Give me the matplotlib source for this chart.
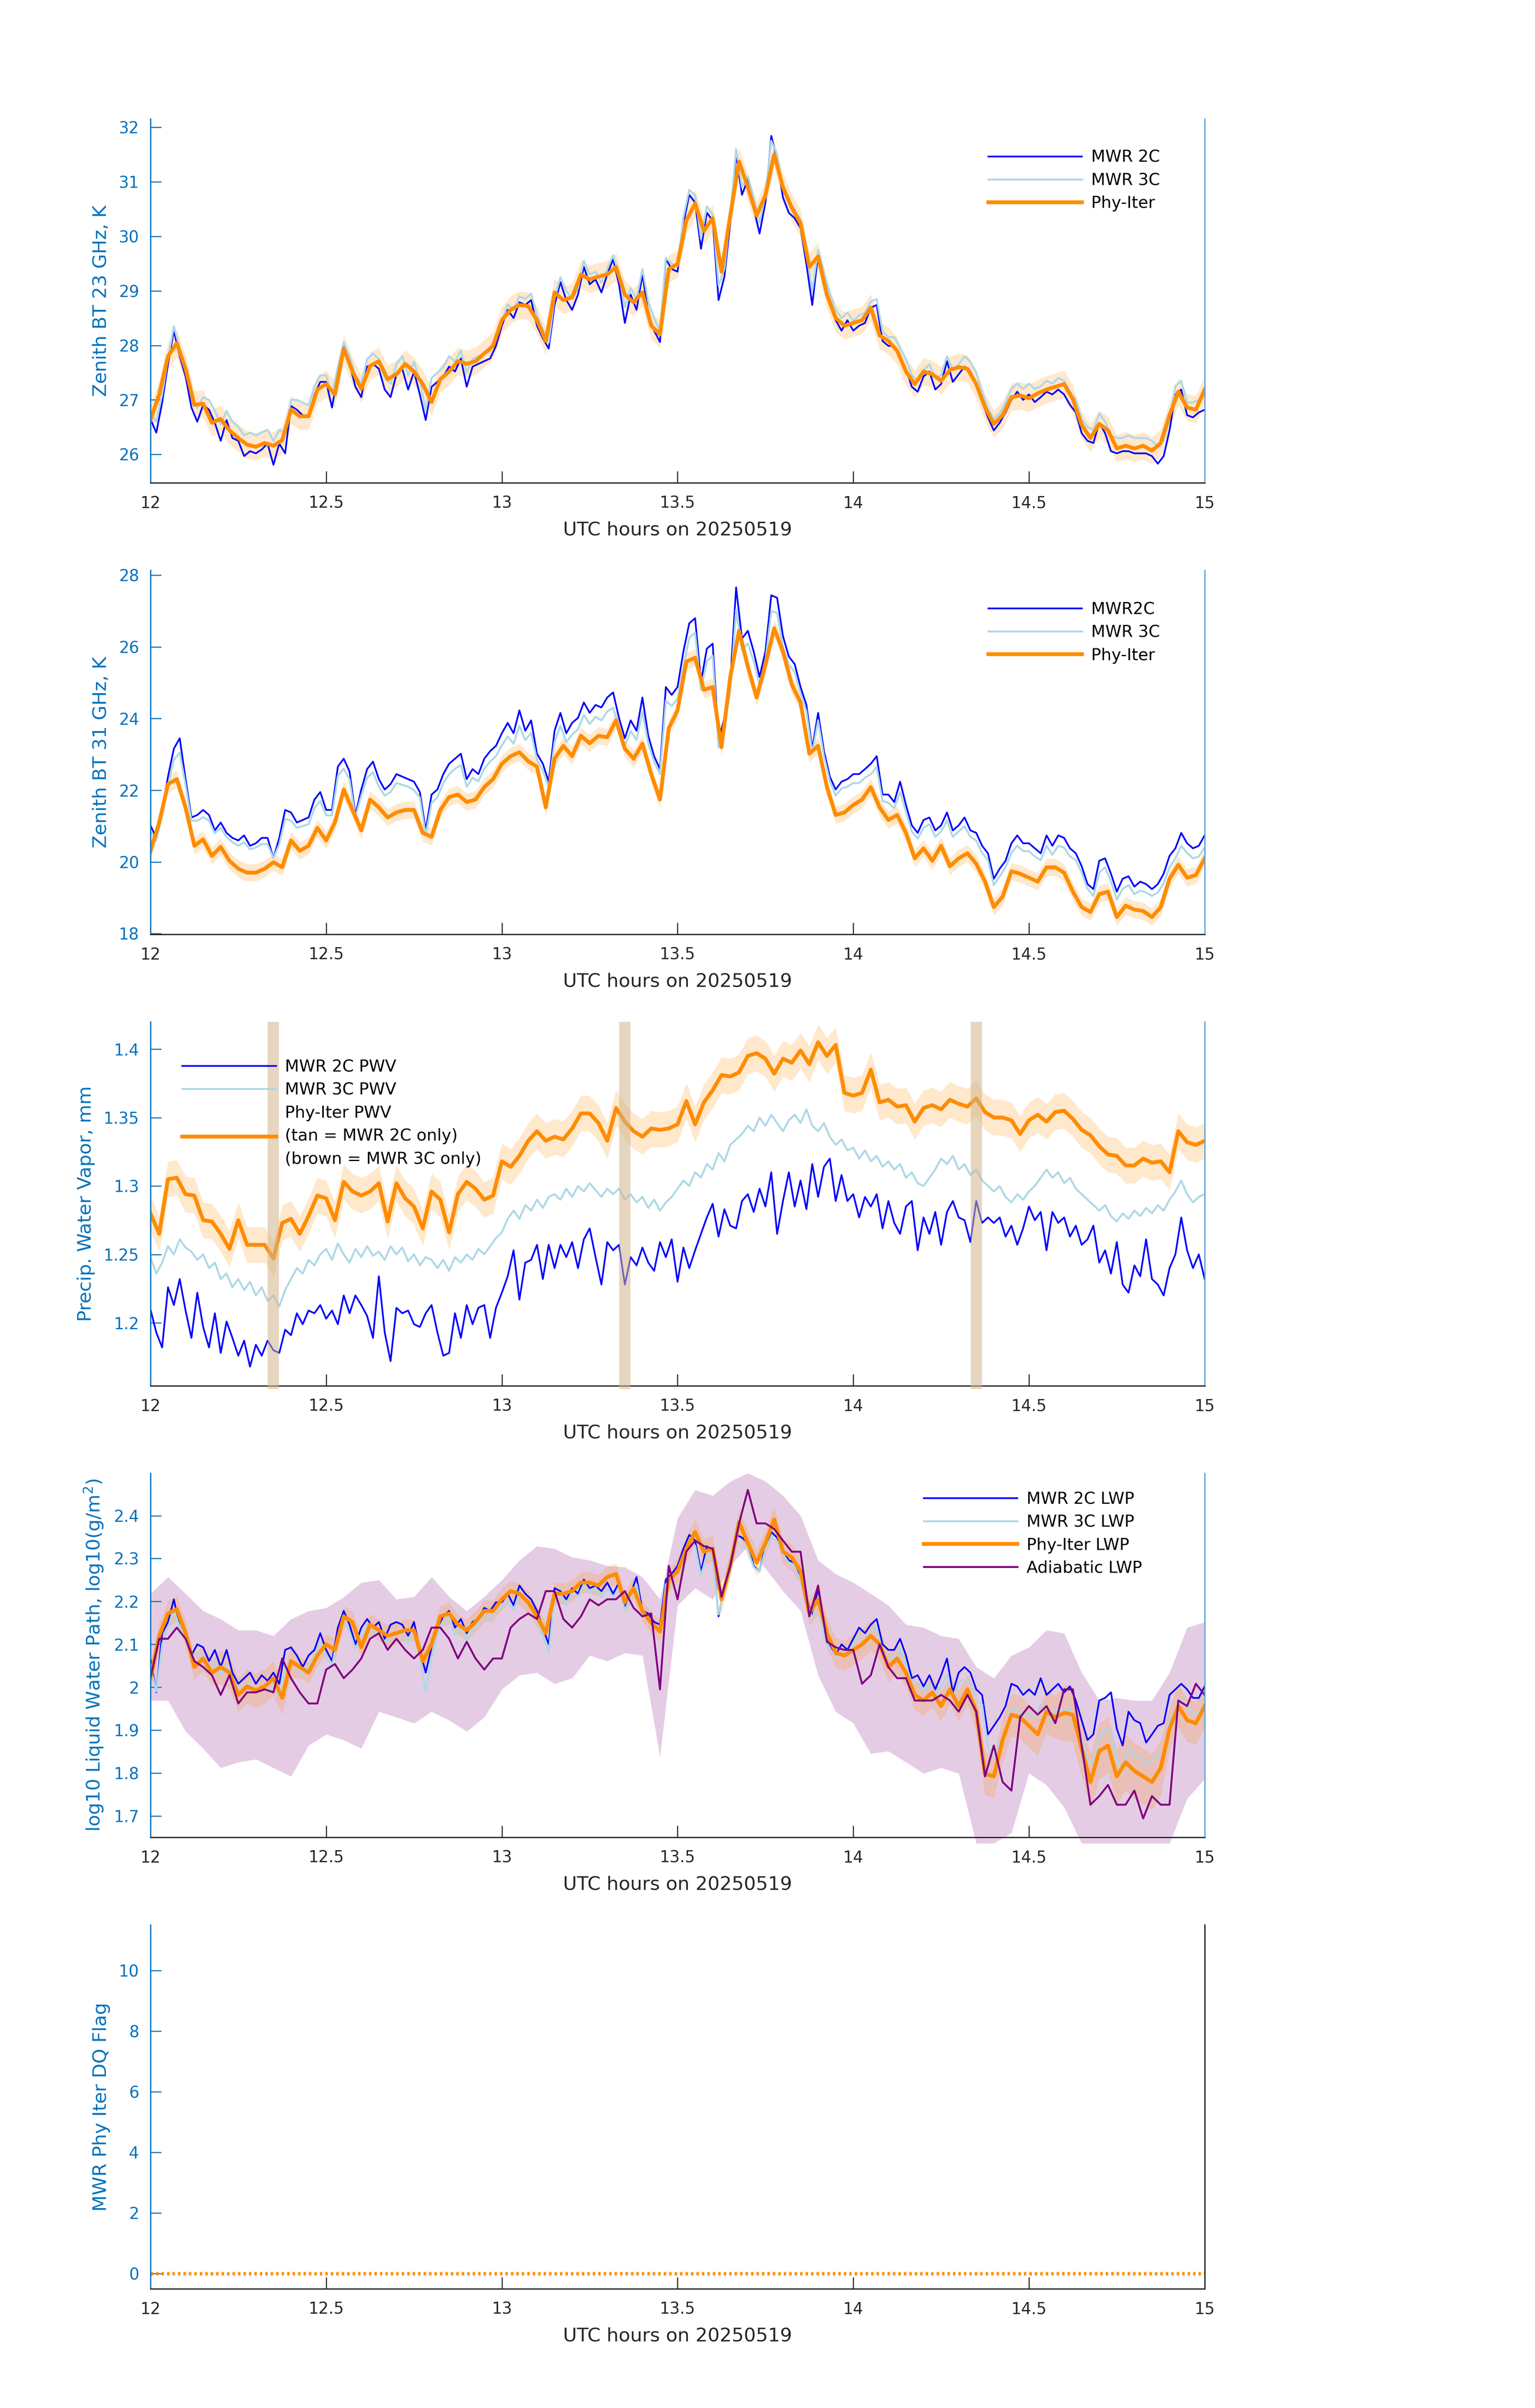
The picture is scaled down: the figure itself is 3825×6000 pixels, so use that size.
import numpy as np
import matplotlib
matplotlib.use("Agg")
import matplotlib.pyplot as plt
from matplotlib.ticker import FormatStrFormatter

# time axes (UTC hours)
t_fine = np.linspace(12, 15, 181)   # MWR samples, 1 min
t_phy = np.linspace(12, 15, 121)    # Phy-Iter retrievals, 1.5 min
t_env = np.linspace(12, 15, 61)     # adiabatic envelope, 3 min
x_ticks = [12, 12.5, 13, 13.5, 14, 14.5, 15]

# ---- 23 GHz brightness temperature, K
bt23_2c = [26.65, 26.40, 26.95, 27.66, 28.27, 27.80, 27.43, 26.86, 26.60, 26.91,
           26.82, 26.58, 26.25, 26.63, 26.30, 26.25, 25.97, 26.06, 26.02, 26.09,
           26.20, 25.81, 26.20, 26.02, 26.89, 26.82, 26.72, 26.68, 27.10, 27.33,
           27.33, 26.86, 27.47, 27.99, 27.66, 27.24, 27.05, 27.61, 27.66, 27.57,
           27.19, 27.05, 27.47, 27.57, 27.19, 27.52, 27.10, 26.63, 27.24, 27.33,
           27.43, 27.61, 27.52, 27.76, 27.24, 27.61, 27.66, 27.71, 27.76, 27.99,
           28.36, 28.65, 28.50, 28.79, 28.74, 28.83, 28.36, 28.13, 27.94, 28.74,
           29.16, 28.83, 28.65, 28.93, 29.44, 29.12, 29.21, 28.97, 29.30, 29.58,
           29.12, 28.41, 28.93, 28.65, 29.30, 28.60, 28.27, 28.06, 29.58, 29.40,
           29.35, 30.24, 30.76, 30.62, 29.77, 30.43, 30.29, 28.83, 29.26, 30.24,
           31.51, 30.76, 31.04, 30.52, 30.05, 30.62, 31.84, 31.41, 30.71, 30.43,
           30.33, 30.15, 29.49, 28.74, 29.68, 29.21, 28.74, 28.46, 28.27, 28.46,
           28.27, 28.36, 28.41, 28.69, 28.74, 28.08, 27.99, 27.99, 27.80, 27.57,
           27.24, 27.15, 27.43, 27.52, 27.19, 27.29, 27.71, 27.33, 27.47, 27.61,
           27.52, 27.29, 26.96, 26.68, 26.44, 26.58, 26.77, 27.00, 27.15, 27.00,
           27.10, 26.96, 27.05, 27.15, 27.10, 27.19, 27.10, 26.91, 26.77, 26.39,
           26.25, 26.21, 26.58, 26.39, 26.06, 26.02, 26.06, 26.06, 26.02, 26.02,
           26.02, 25.97, 25.83, 25.97, 26.44, 27.10, 27.19, 26.72, 26.68, 26.77,
           26.82]
bt23_3c = [26.75, 26.60, 27.10, 27.75, 28.35, 27.95, 27.55, 27.05, 26.85, 27.05,
           27.00, 26.80, 26.55, 26.80, 26.60, 26.50, 26.35, 26.40, 26.35, 26.40,
           26.45, 26.25, 26.45, 26.40, 27.00, 27.00, 26.95, 26.90, 27.25, 27.45,
           27.45, 27.10, 27.60, 28.05, 27.80, 27.45, 27.30, 27.75, 27.85, 27.75,
           27.40, 27.30, 27.65, 27.80, 27.45, 27.70, 27.35, 26.80, 27.40, 27.50,
           27.60, 27.80, 27.70, 27.90, 27.50, 27.75, 27.80, 27.85, 27.90, 28.10,
           28.45, 28.75, 28.65, 28.90, 28.85, 28.95, 28.55, 28.30, 28.05, 28.85,
           29.25, 29.00, 28.85, 29.05, 29.55, 29.30, 29.35, 29.15, 29.40, 29.65,
           29.30, 28.70, 29.05, 28.85, 29.40, 28.80, 28.50, 28.25, 29.60, 29.50,
           29.45, 30.35, 30.85, 30.75, 29.95, 30.55, 30.40, 29.10, 29.40, 30.35,
           31.60, 30.90, 31.10, 30.70, 30.25, 30.75, 31.75, 31.50, 30.85, 30.60,
           30.50, 30.30, 29.70, 29.00, 29.75, 29.35, 28.95, 28.65, 28.50, 28.60,
           28.45, 28.55, 28.60, 28.80, 28.85, 28.25, 28.15, 28.15, 27.95, 27.75,
           27.45, 27.35, 27.55, 27.65, 27.40, 27.45, 27.80, 27.55, 27.65, 27.80,
           27.70, 27.50, 27.15, 26.85, 26.65, 26.75, 26.95, 27.20, 27.30, 27.20,
           27.30, 27.20, 27.25, 27.35, 27.30, 27.40, 27.35, 27.15, 27.00, 26.65,
           26.50, 26.45, 26.75, 26.60, 26.35, 26.30, 26.30, 26.35, 26.30, 26.30,
           26.30, 26.25, 26.15, 26.25, 26.65, 27.25, 27.35, 26.95, 26.95, 27.00,
           27.10]
bt23_phy = [26.63, 27.10, 27.80, 28.04, 27.57, 26.91, 26.93, 26.58, 26.65, 26.44,
            26.30, 26.18, 26.14, 26.21, 26.16, 26.26, 26.82, 26.70, 26.70, 27.19,
            27.29, 27.10, 27.94, 27.52, 27.20, 27.62, 27.71, 27.38, 27.47, 27.66,
            27.52, 27.29, 26.96, 27.38, 27.52, 27.71, 27.66, 27.71, 27.85, 27.99,
            28.46, 28.65, 28.74, 28.72, 28.46, 28.08, 28.97, 28.83, 28.88, 29.30,
            29.21, 29.26, 29.30, 29.44, 28.93, 28.79, 28.97, 28.36, 28.20, 29.40,
            29.49, 30.29, 30.60, 30.10, 30.33, 29.35, 30.38, 31.37, 30.90, 30.38,
            30.75, 31.50, 30.90, 30.52, 30.24, 29.44, 29.63, 28.93, 28.50, 28.36,
            28.41, 28.46, 28.69, 28.18, 28.08, 27.90, 27.52, 27.29, 27.52, 27.47,
            27.35, 27.55, 27.60, 27.57, 27.29, 26.86, 26.56, 26.72, 27.05, 27.08,
            27.03, 27.12, 27.19, 27.24, 27.29, 27.01, 26.54, 26.30, 26.56, 26.44,
            26.11, 26.16, 26.11, 26.16, 26.07, 26.21, 26.72, 27.15, 26.86, 26.82,
            27.19]
bt23_unc = 0.25

# ---- 31 GHz brightness temperature, K
bt31_2c = [21.02, 20.67, 21.45, 22.38, 23.16, 23.45, 22.31, 21.24, 21.31, 21.45,
           21.31, 20.88, 21.10, 20.81, 20.67, 20.60, 20.74, 20.45, 20.52, 20.67,
           20.67, 20.10, 20.67, 21.45, 21.38, 21.10, 21.17, 21.24, 21.74, 21.95,
           21.45, 21.45, 22.66, 22.88, 22.52, 21.31, 22.02, 22.59, 22.80, 22.31,
           22.02, 22.17, 22.45, 22.38, 22.31, 22.24, 21.95, 20.88, 21.88, 22.02,
           22.45, 22.74, 22.88, 23.02, 22.31, 22.59, 22.45, 22.88, 23.09, 23.24,
           23.59, 23.88, 23.59, 24.23, 23.66, 23.95, 23.02, 22.74, 22.24, 23.66,
           24.16, 23.59, 23.88, 24.02, 24.45, 24.16, 24.38, 24.31, 24.59, 24.73,
           24.02, 23.45, 23.95, 23.66, 24.59, 23.52, 22.95, 22.59, 24.88, 24.66,
           24.88, 25.87, 26.66, 26.80, 25.02, 25.95, 26.09, 23.38, 24.02, 25.02,
           27.66, 26.23, 26.45, 25.87, 25.16, 25.87, 27.44, 27.37, 26.30, 25.73,
           25.52, 24.88, 24.38, 23.16, 24.16, 23.09, 22.38, 22.02, 22.24, 22.31,
           22.45, 22.45, 22.59, 22.74, 22.95, 21.88, 21.88, 21.67, 22.24, 21.59,
           21.02, 20.81, 21.17, 21.24, 20.88, 21.02, 21.38, 20.88, 21.02, 21.24,
           20.88, 20.81, 20.45, 20.24, 19.53, 19.81, 20.03, 20.52, 20.74, 20.52,
           20.52, 20.38, 20.24, 20.74, 20.45, 20.74, 20.67, 20.38, 20.24, 19.88,
           19.38, 19.24, 20.03, 20.10, 19.67, 19.17, 19.53, 19.60, 19.31, 19.45,
           19.38, 19.24, 19.38, 19.67, 20.17, 20.38, 20.81, 20.52, 20.38, 20.45,
           20.74]
bt31_3c = [20.85, 20.60, 21.30, 22.15, 22.85, 23.05, 22.15, 21.15, 21.15, 21.25,
           21.15, 20.80, 20.95, 20.70, 20.55, 20.45, 20.55, 20.35, 20.40, 20.50,
           20.50, 20.10, 20.50, 21.20, 21.15, 20.95, 21.00, 21.05, 21.50, 21.70,
           21.30, 21.30, 22.40, 22.60, 22.30, 21.25, 21.85, 22.35, 22.50, 22.10,
           21.85, 21.95, 22.20, 22.15, 22.10, 22.00, 21.80, 20.75, 21.65, 21.80,
           22.20, 22.45, 22.60, 22.70, 22.10, 22.35, 22.25, 22.60, 22.80, 22.95,
           23.25, 23.50, 23.30, 23.80, 23.40, 23.60, 22.85, 22.55, 22.10, 23.35,
           23.80, 23.35, 23.55, 23.70, 24.10, 23.85, 24.05, 23.95, 24.20, 24.30,
           23.75, 23.25, 23.65, 23.40, 24.20, 23.30, 22.80, 22.45, 24.50, 24.35,
           24.55, 25.45, 26.25, 26.40, 24.80, 25.60, 25.75, 23.20, 23.80, 24.75,
           27.05, 25.90, 26.10, 25.60, 24.95, 25.60, 27.00, 26.95, 26.00, 25.50,
           25.30, 24.70, 24.20, 23.05, 23.95, 22.95, 22.25, 21.85, 22.05, 22.10,
           22.20, 22.20, 22.35, 22.45, 22.65, 21.70, 21.65, 21.50, 21.95, 21.40,
           20.85, 20.65, 20.95, 21.05, 20.70, 20.85, 21.15, 20.70, 20.85, 21.00,
           20.70, 20.60, 20.25, 20.05, 19.35, 19.60, 19.85, 20.25, 20.45, 20.30,
           20.30, 20.15, 20.05, 20.45, 20.20, 20.45, 20.40, 20.15, 20.05, 19.70,
           19.25, 19.05, 19.70, 19.85, 19.45, 18.95, 19.25, 19.35, 19.10, 19.20,
           19.15, 19.05, 19.15, 19.40, 19.85, 20.10, 20.45, 20.25, 20.10, 20.15,
           20.40]
bt31_phy = [20.30, 21.10, 22.17, 22.31, 21.52, 20.45, 20.63, 20.17, 20.42, 20.03,
            19.81, 19.70, 19.70, 19.81, 19.99, 19.85, 20.60, 20.31, 20.45, 20.95,
            20.60, 21.10, 22.02, 21.45, 20.88, 21.74, 21.52, 21.24, 21.38, 21.45,
            21.45, 20.81, 20.70, 21.45, 21.81, 21.88, 21.67, 21.74, 22.09, 22.31,
            22.74, 22.95, 23.06, 22.81, 22.66, 21.52, 22.88, 23.24, 22.95, 23.52,
            23.31, 23.52, 23.48, 23.95, 23.16, 22.88, 23.30, 22.45, 21.74, 23.73,
            24.23, 25.59, 25.70, 24.80, 24.88, 23.20, 25.16, 26.45, 25.45, 24.59,
            25.50, 26.52, 25.87, 24.95, 24.45, 23.02, 23.24, 22.09, 21.31, 21.38,
            21.59, 21.74, 22.09, 21.52, 21.17, 21.31, 20.81, 20.10, 20.38, 20.03,
            20.45, 19.88, 20.10, 20.24, 19.95, 19.45, 18.74, 19.03, 19.74, 19.67,
            19.56, 19.45, 19.85, 19.85, 19.70, 19.17, 18.74, 18.60, 19.10, 19.17,
            18.46, 18.78, 18.67, 18.63, 18.46, 18.74, 19.53, 19.92, 19.56, 19.63,
            20.10]
bt31_unc = 0.24

# ---- precipitable water vapor, mm
pwv_2c = [1.210, 1.193, 1.182, 1.226, 1.213, 1.232, 1.209, 1.189, 1.222, 1.197,
          1.182, 1.207, 1.178, 1.201, 1.189, 1.176, 1.187, 1.168, 1.184, 1.176,
          1.187, 1.180, 1.178, 1.195, 1.191, 1.207, 1.199, 1.209, 1.207, 1.213,
          1.203, 1.209, 1.199, 1.220, 1.207, 1.220, 1.213, 1.205, 1.189, 1.234,
          1.193, 1.172, 1.211, 1.207, 1.209, 1.199, 1.197, 1.207, 1.213, 1.193,
          1.176, 1.178, 1.207, 1.189, 1.213, 1.199, 1.211, 1.213, 1.189, 1.211,
          1.222, 1.234, 1.253, 1.217, 1.244, 1.246, 1.257, 1.232, 1.257, 1.240,
          1.257, 1.248, 1.259, 1.240, 1.261, 1.269, 1.248, 1.228, 1.259, 1.253,
          1.257, 1.228, 1.248, 1.242, 1.255, 1.244, 1.238, 1.259, 1.248, 1.261,
          1.230, 1.255, 1.240, 1.253, 1.265, 1.277, 1.287, 1.263, 1.283, 1.271,
          1.269, 1.289, 1.294, 1.281, 1.298, 1.285, 1.310, 1.265, 1.289, 1.310,
          1.285, 1.304, 1.283, 1.316, 1.292, 1.314, 1.320, 1.289, 1.308, 1.289,
          1.294, 1.277, 1.292, 1.285, 1.294, 1.269, 1.289, 1.273, 1.265, 1.285,
          1.289, 1.253, 1.277, 1.265, 1.281, 1.257, 1.281, 1.289, 1.277, 1.275,
          1.259, 1.289, 1.273, 1.277, 1.273, 1.277, 1.263, 1.271, 1.257, 1.269,
          1.285, 1.275, 1.281, 1.253, 1.281, 1.273, 1.277, 1.263, 1.271, 1.257,
          1.261, 1.271, 1.244, 1.253, 1.236, 1.259, 1.228, 1.222, 1.242, 1.234,
          1.261, 1.232, 1.228, 1.220, 1.240, 1.250, 1.277, 1.253, 1.240, 1.250,
          1.232]
pwv_3c = [1.248, 1.236, 1.244, 1.256, 1.250, 1.261, 1.255, 1.252, 1.246, 1.250,
          1.240, 1.244, 1.232, 1.236, 1.226, 1.232, 1.224, 1.230, 1.220, 1.226,
          1.216, 1.220, 1.212, 1.224, 1.232, 1.240, 1.236, 1.246, 1.242, 1.250,
          1.254, 1.246, 1.258, 1.250, 1.244, 1.254, 1.248, 1.256, 1.249, 1.252,
          1.246, 1.256, 1.250, 1.255, 1.245, 1.250, 1.242, 1.248, 1.246, 1.240,
          1.246, 1.238, 1.248, 1.244, 1.250, 1.246, 1.254, 1.250, 1.256, 1.262,
          1.266, 1.276, 1.282, 1.276, 1.286, 1.282, 1.290, 1.284, 1.292, 1.294,
          1.290, 1.298, 1.292, 1.300, 1.296, 1.302, 1.297, 1.292, 1.298, 1.294,
          1.298, 1.290, 1.294, 1.288, 1.292, 1.284, 1.290, 1.282, 1.288, 1.292,
          1.298, 1.304, 1.300, 1.310, 1.306, 1.316, 1.312, 1.324, 1.318, 1.330,
          1.334, 1.338, 1.344, 1.340, 1.350, 1.344, 1.352, 1.346, 1.340, 1.348,
          1.352, 1.346, 1.356, 1.344, 1.340, 1.346, 1.336, 1.330, 1.334, 1.326,
          1.328, 1.320, 1.326, 1.318, 1.322, 1.314, 1.318, 1.312, 1.316, 1.306,
          1.310, 1.302, 1.300, 1.306, 1.312, 1.320, 1.316, 1.322, 1.312, 1.316,
          1.308, 1.312, 1.304, 1.300, 1.296, 1.300, 1.292, 1.288, 1.294, 1.290,
          1.296, 1.300, 1.306, 1.312, 1.306, 1.310, 1.302, 1.306, 1.298, 1.294,
          1.290, 1.286, 1.282, 1.286, 1.278, 1.274, 1.280, 1.276, 1.282, 1.278,
          1.284, 1.280, 1.286, 1.282, 1.290, 1.296, 1.304, 1.294, 1.288, 1.292,
          1.294]
pwv_phy = [1.280, 1.265, 1.305, 1.306, 1.294, 1.293, 1.275, 1.274, 1.265, 1.254,
           1.275, 1.257, 1.257, 1.257, 1.247, 1.273, 1.276, 1.265, 1.278, 1.293,
           1.291, 1.275, 1.303, 1.296, 1.293, 1.296, 1.302, 1.274, 1.302, 1.291,
           1.285, 1.269, 1.296, 1.290, 1.266, 1.294, 1.303, 1.298, 1.290, 1.293,
           1.318, 1.314, 1.322, 1.333, 1.340, 1.333, 1.336, 1.334, 1.342, 1.353,
           1.353, 1.346, 1.333, 1.357, 1.347, 1.340, 1.336, 1.342, 1.341, 1.342,
           1.345, 1.362, 1.345, 1.361, 1.370, 1.381, 1.380, 1.383, 1.395, 1.397,
           1.393, 1.382, 1.393, 1.390, 1.399, 1.389, 1.405, 1.395, 1.403, 1.368,
           1.366, 1.368, 1.385, 1.361, 1.363, 1.358, 1.359, 1.347, 1.357, 1.359,
           1.356, 1.363, 1.360, 1.358, 1.364, 1.354, 1.350, 1.350, 1.348, 1.338,
           1.348, 1.352, 1.347, 1.354, 1.355, 1.349, 1.341, 1.337, 1.329, 1.323,
           1.322, 1.315, 1.315, 1.320, 1.317, 1.318, 1.310, 1.340, 1.332, 1.330,
           1.333]
pwv_unc = 0.013
tan_times = [12.35, 13.35, 14.35]   # MWR 2C-only retrievals
tan_width = 0.032

# ---- log10 liquid water path
lwp_2c = [2.067, 1.988, 2.126, 2.152, 2.205, 2.139, 2.130, 2.074, 2.100, 2.093,
          2.061, 2.087, 2.047, 2.087, 2.034, 2.008, 2.021, 2.034, 2.008, 2.028,
          2.015, 2.034, 2.008, 2.087, 2.093, 2.074, 2.047, 2.074, 2.087, 2.126,
          2.087, 2.061, 2.139, 2.178, 2.146, 2.100, 2.139, 2.159, 2.139, 2.152,
          2.113, 2.146, 2.152, 2.146, 2.120, 2.152, 2.087, 2.034, 2.093, 2.139,
          2.165, 2.178, 2.139, 2.159, 2.126, 2.152, 2.159, 2.185, 2.178, 2.198,
          2.198, 2.218, 2.191, 2.237, 2.218, 2.205, 2.178, 2.139, 2.100, 2.231,
          2.224, 2.205, 2.231, 2.218, 2.251, 2.231, 2.237, 2.224, 2.244, 2.218,
          2.244, 2.185, 2.218, 2.257, 2.178, 2.172, 2.152, 2.146, 2.251, 2.264,
          2.283, 2.323, 2.355, 2.342, 2.270, 2.329, 2.316, 2.165, 2.237, 2.283,
          2.355, 2.349, 2.336, 2.283, 2.270, 2.329, 2.362, 2.349, 2.316, 2.296,
          2.290, 2.257, 2.211, 2.165, 2.231, 2.133, 2.100, 2.074, 2.100, 2.087,
          2.113, 2.139, 2.126, 2.146, 2.159, 2.100, 2.087, 2.087, 2.113, 2.074,
          2.021, 2.028, 2.002, 2.028, 1.995, 2.028, 2.067, 1.988, 2.034, 2.047,
          2.034, 1.995, 1.982, 1.890, 1.910, 1.930, 1.956, 2.008, 2.002, 1.982,
          1.995, 1.982, 2.021, 1.982, 1.995, 2.008, 1.988, 2.002, 1.969, 1.923,
          1.877, 1.890, 1.969, 1.975, 1.988, 1.903, 1.864, 1.943, 1.923, 1.916,
          1.871, 1.890, 1.910, 1.916, 1.982, 1.995, 2.008, 1.995, 1.975, 1.975,
          2.002]
lwp_3c = [2.05, 1.99, 2.10, 2.14, 2.18, 2.14, 2.12, 2.07, 2.08, 2.07,
          2.05, 2.06, 2.03, 2.05, 2.02, 2.00, 2.00, 2.01, 1.99, 2.00,
          1.99, 2.01, 1.98, 2.05, 2.06, 2.05, 2.03, 2.05, 2.07, 2.10,
          2.07, 2.05, 2.12, 2.16, 2.13, 2.09, 2.12, 2.14, 2.12, 2.13,
          2.10, 2.12, 2.13, 2.12, 2.10, 2.13, 2.07, 1.99, 2.07, 2.12,
          2.15, 2.16, 2.12, 2.14, 2.11, 2.13, 2.15, 2.17, 2.16, 2.18,
          2.19, 2.20, 2.18, 2.22, 2.20, 2.19, 2.16, 2.12, 2.08, 2.21,
          2.21, 2.19, 2.22, 2.21, 2.24, 2.22, 2.23, 2.21, 2.23, 2.21,
          2.23, 2.18, 2.21, 2.24, 2.17, 2.16, 2.14, 2.13, 2.24, 2.25,
          2.27, 2.31, 2.34, 2.33, 2.26, 2.31, 2.30, 2.17, 2.23, 2.27,
          2.34, 2.33, 2.32, 2.28, 2.27, 2.32, 2.35, 2.34, 2.31, 2.29,
          2.28, 2.25, 2.20, 2.16, 2.21, 2.12, 2.09, 2.07, 2.09, 2.08,
          2.10, 2.12, 2.11, 2.13, 2.14, 2.08, 2.07, 2.07, 2.09, 2.05,
          2.01, 2.01, 1.99, 2.01, 1.98, 2.00, 2.03, 1.97, 2.01, 2.02,
          2.01, 1.97, 1.96, 1.86, 1.84, 1.87, 1.90, 1.95, 1.95, 1.93,
          1.94, 1.93, 1.96, 1.93, 1.94, 1.95, 1.94, 1.95, 1.92, 1.88,
          1.83, 1.82, 1.88, 1.90, 1.90, 1.83, 1.80, 1.86, 1.84, 1.84,
          1.82, 1.83, 1.84, 1.85, 1.92, 1.95, 1.97, 1.96, 1.94, 1.94,
          1.96]
lwp_phy = [2.021, 2.120, 2.172, 2.182, 2.126, 2.047, 2.067, 2.034, 2.047, 2.034,
           1.982, 2.002, 1.992, 2.002, 2.021, 1.975, 2.061, 2.047, 2.034, 2.074,
           2.100, 2.087, 2.165, 2.152, 2.093, 2.146, 2.133, 2.120, 2.126, 2.133,
           2.133, 2.061, 2.100, 2.165, 2.172, 2.146, 2.133, 2.152, 2.178, 2.178,
           2.205, 2.224, 2.218, 2.198, 2.165, 2.126, 2.218, 2.218, 2.224, 2.244,
           2.244, 2.237, 2.257, 2.264, 2.198, 2.231, 2.178, 2.150, 2.130, 2.250,
           2.270, 2.323, 2.362, 2.316, 2.323, 2.205, 2.283, 2.385, 2.336, 2.290,
           2.336, 2.391, 2.316, 2.303, 2.270, 2.172, 2.205, 2.126, 2.080, 2.074,
           2.087, 2.100, 2.120, 2.100, 2.047, 2.067, 2.034, 1.982, 1.969, 1.988,
           1.956, 1.995, 1.956, 1.995, 1.943, 1.798, 1.792, 1.877, 1.936, 1.930,
           1.910, 1.890, 1.943, 1.930, 1.940, 1.936, 1.857, 1.779, 1.851, 1.864,
           1.792, 1.825, 1.805, 1.792, 1.779, 1.812, 1.903, 1.956, 1.923, 1.916,
           1.956]
lwp_phy_unc = [0.03, 0.03, 0.03, 0.03, 0.03, 0.03, 0.03, 0.03, 0.04, 0.04,
               0.04, 0.04, 0.04, 0.04, 0.04, 0.04, 0.04, 0.025, 0.025, 0.025,
               0.025, 0.025, 0.025, 0.025, 0.025, 0.025, 0.025, 0.025, 0.025, 0.025,
               0.025, 0.025, 0.025, 0.025, 0.025, 0.025, 0.025, 0.025, 0.025, 0.025,
               0.025, 0.025, 0.025, 0.025, 0.025, 0.025, 0.025, 0.025, 0.025, 0.025,
               0.025, 0.025, 0.025, 0.025, 0.025, 0.025, 0.025, 0.025, 0.025, 0.025,
               0.03, 0.03, 0.03, 0.03, 0.03, 0.03, 0.03, 0.03, 0.03, 0.03,
               0.03, 0.03, 0.03, 0.03, 0.03, 0.03, 0.035, 0.035, 0.035, 0.035,
               0.035, 0.035, 0.035, 0.035, 0.035, 0.035, 0.035, 0.035, 0.035, 0.035,
               0.035, 0.035, 0.035, 0.035, 0.05, 0.05, 0.05, 0.05, 0.05, 0.05,
               0.05, 0.05, 0.05, 0.05, 0.065, 0.065, 0.065, 0.065, 0.065, 0.065,
               0.065, 0.065, 0.065, 0.065, 0.065, 0.065, 0.05, 0.05, 0.05, 0.05,
               0.05]
lwp_adiab = [2.021, 2.113, 2.113, 2.139, 2.113, 2.061, 2.047, 2.028, 1.982, 2.028,
             1.962, 1.988, 1.988, 1.995, 1.988, 2.067, 2.021, 1.988, 1.962, 1.962,
             2.041, 2.054, 2.021, 2.041, 2.067, 2.113, 2.126, 2.087, 2.113, 2.087,
             2.067, 2.087, 2.139, 2.139, 2.113, 2.067, 2.106, 2.067, 2.041, 2.067,
             2.067, 2.139, 2.159, 2.172, 2.159, 2.224, 2.224, 2.159, 2.139, 2.165,
             2.205, 2.191, 2.205, 2.205, 2.224, 2.185, 2.165, 2.172, 1.995, 2.283,
             2.205, 2.316, 2.342, 2.329, 2.323, 2.211, 2.283, 2.382, 2.460, 2.382,
             2.382, 2.369, 2.342, 2.316, 2.316, 2.165, 2.237, 2.106, 2.093, 2.087,
             2.087, 2.008, 2.028, 2.100, 2.047, 2.021, 2.021, 1.969, 1.969, 1.969,
             1.982, 1.969, 1.943, 1.982, 1.943, 1.792, 1.864, 1.779, 1.759, 1.930,
             1.956, 1.936, 1.956, 1.916, 1.995, 1.995, 1.864, 1.726, 1.746, 1.772,
             1.726, 1.726, 1.759, 1.694, 1.746, 1.726, 1.726, 1.969, 1.956, 2.008,
             1.982]
adiab_hi = [2.218, 2.257, 2.218, 2.178, 2.159, 2.133, 2.133, 2.120, 2.159, 2.178,
            2.185, 2.210, 2.244, 2.250, 2.205, 2.211, 2.257, 2.211, 2.178, 2.211,
            2.250, 2.296, 2.329, 2.323, 2.303, 2.296, 2.283, 2.280, 2.257, 2.205,
            2.394, 2.460, 2.447, 2.480, 2.499, 2.480, 2.447, 2.400, 2.296, 2.264,
            2.244, 2.218, 2.191, 2.146, 2.139, 2.120, 2.113, 2.047, 2.021, 2.074,
            2.093, 2.133, 2.126, 2.034, 1.969, 1.975, 1.969, 1.969, 2.034, 2.139,
            2.152]
adiab_lo = [1.969, 1.969, 1.897, 1.857, 1.812, 1.825, 1.832, 1.812, 1.792, 1.864,
            1.890, 1.877, 1.857, 1.943, 1.930, 1.916, 1.943, 1.923, 1.897, 1.930,
            1.995, 2.028, 2.034, 2.008, 2.021, 2.074, 2.061, 2.080, 2.074, 1.838,
            2.191, 2.231, 2.205, 2.283, 2.329, 2.277, 2.224, 2.178, 2.028, 1.943,
            1.916, 1.845, 1.851, 1.825, 1.799, 1.812, 1.799, 1.636, 1.636, 1.660,
            1.799, 1.772, 1.720, 1.636, 1.636, 1.636, 1.636, 1.636, 1.636, 1.740,
            1.786]

# ---- data quality flag
dq_flag = [0, 0, 0, 0, 0, 0, 0, 0, 0, 0, 0, 0, 0, 0, 0, 0, 0, 0, 0, 0,
           0, 0, 0, 0, 0, 0, 0, 0, 0, 0, 0, 0, 0, 0, 0, 0, 0, 0, 0, 0,
           0, 0, 0, 0, 0, 0, 0, 0, 0, 0, 0, 0, 0, 0, 0, 0, 0, 0, 0, 0,
           0, 0, 0, 0, 0, 0, 0, 0, 0, 0, 0, 0, 0, 0, 0, 0, 0, 0, 0, 0,
           0, 0, 0, 0, 0, 0, 0, 0, 0, 0, 0, 0, 0, 0, 0, 0, 0, 0, 0, 0,
           0, 0, 0, 0, 0, 0, 0, 0, 0, 0, 0, 0, 0, 0, 0, 0, 0, 0, 0, 0,
           0]

AX_BLUE = '#0072BD'
RIGHT_BLUE = '#5DA5DA'
DARK = '#262626'
ORANGE = 'darkorange'


def style(ax, ylabel, ylim, yticks, right_color=RIGHT_BLUE):
    ax.set_xlim(12, 15)
    ax.set_ylim(*ylim)
    ax.set_xticks(x_ticks)
    ax.set_yticks(yticks)
    ax.xaxis.set_major_formatter(FormatStrFormatter('%g'))
    ax.yaxis.set_major_formatter(FormatStrFormatter('%g'))
    ax.spines['top'].set_visible(False)
    ax.spines['left'].set_color(AX_BLUE)
    ax.spines['right'].set_color(right_color)
    ax.spines['bottom'].set_color(DARK)
    for sp in ax.spines.values():
        sp.set_linewidth(0.6)
    ax.tick_params(axis='x', direction='in', length=5.5, width=0.5,
                   colors=DARK, labelsize=7.5, pad=6)
    ax.tick_params(axis='y', direction='in', length=5, width=0.5,
                   colors=AX_BLUE, labelsize=7.5, pad=5.3)
    ax.set_xlabel('UTC hours on 20250519', fontsize=8.9, color=DARK, labelpad=4.5)
    ax.set_ylabel(ylabel, fontsize=8.9, color=AX_BLUE, labelpad=4)


def legend(ax, handles, x0, y0):
    leg = ax.legend(handles=handles, loc='upper left', bbox_to_anchor=(x0, y0),
                    frameon=False, fontsize=7.7, handlelength=5.7,
                    handletextpad=0.55, labelspacing=0.42, borderpad=0,
                    borderaxespad=0)
    for txt in leg.get_texts():
        txt.set_linespacing(1.57)
    return leg


fig = plt.figure(figsize=(3825 / 382.5, 6000 / 382.5), dpi=382.5)
left, width, height = 0.098, 0.6868, 0.1512
bottoms = [0.7995, 0.612, 0.4245, 0.237, 0.0495]
axes = [fig.add_axes([left, b, width, height]) for b in bottoms]

# panel 1: 23 GHz
ax = axes[0]
phy = np.array(bt23_phy)
h1, = ax.plot(t_fine, bt23_2c, color='blue', lw=0.8, label='MWR 2C')
h2, = ax.plot(t_fine, bt23_3c, color='lightblue', lw=0.9, label='MWR 3C')
ax.fill_between(t_phy, phy - bt23_unc, phy + bt23_unc, color=ORANGE, alpha=0.2, lw=0)
h3, = ax.plot(t_phy, phy, color=ORANGE, lw=1.8, label='Phy-Iter')
style(ax, 'Zenith BT 23 GHz, K', (25.48, 32.155), [26, 27, 28, 29, 30, 31, 32])
legend(ax, [h1, h2, h3], 0.795, 0.915)

# panel 2: 31 GHz
ax = axes[1]
phy = np.array(bt31_phy)
h1, = ax.plot(t_fine, bt31_2c, color='blue', lw=0.8, label='MWR2C')
h2, = ax.plot(t_fine, bt31_3c, color='lightblue', lw=0.9, label='MWR 3C')
ax.fill_between(t_phy, phy - bt31_unc, phy + bt31_unc, color=ORANGE, alpha=0.2, lw=0)
h3, = ax.plot(t_phy, phy, color=ORANGE, lw=1.8, label='Phy-Iter')
style(ax, 'Zenith BT 31 GHz, K', (17.98, 28.14), [18, 20, 22, 24, 26, 28])
legend(ax, [h1, h2, h3], 0.795, 0.9135)

# panel 3: PWV
ax = axes[2]
phy = np.array(pwv_phy)
h1, = ax.plot(t_fine, pwv_2c, color='blue', lw=0.8, label='MWR 2C PWV')
h2, = ax.plot(t_fine, pwv_3c, color='lightblue', lw=0.9, label='MWR 3C PWV')
ax.fill_between(t_phy, phy - pwv_unc, phy + pwv_unc, color=ORANGE, alpha=0.2, lw=0)
h3, = ax.plot(t_phy, phy, color=ORANGE, lw=1.8,
              label='Phy-Iter PWV\n(tan = MWR 2C only)\n(brown = MWR 3C only)')
for tt in tan_times:
    ax.axvspan(tt - tan_width / 2, tt + tan_width / 2, ymin=-0.009, ymax=1,
               color='tan', alpha=0.55, lw=0, zorder=4, clip_on=False)
style(ax, 'Precip. Water Vapor, mm', (1.154, 1.420), [1.2, 1.25, 1.3, 1.35, 1.4])
legend(ax, [h1, h2, h3], 0.0303, 0.897)

# panel 4: LWP
ax = axes[3]
phy = np.array(lwp_phy)
unc = np.array(lwp_phy_unc)
ax.fill_between(t_env, adiab_lo, adiab_hi, color='purple', alpha=0.2, lw=0,
                zorder=1, clip_on=False)
h1, = ax.plot(t_fine, lwp_2c, color='blue', lw=0.8, label='MWR 2C LWP')
h2, = ax.plot(t_fine, lwp_3c, color='lightblue', lw=0.9, label='MWR 3C LWP')
ax.fill_between(t_phy, phy - unc, phy + unc, color=ORANGE, alpha=0.2, lw=0)
h3, = ax.plot(t_phy, phy, color=ORANGE, lw=1.8, label='Phy-Iter LWP')
h4, = ax.plot(t_phy, lwp_adiab, color='purple', lw=0.9, label='Adiabatic LWP')
style(ax, 'log10 Liquid Water Path, log10(g/m$^2$)', (1.65, 2.499),
      [1.7, 1.8, 1.9, 2.0, 2.1, 2.2, 2.3, 2.4])
legend(ax, [h1, h2, h3, h4], 0.7336, 0.950)

# panel 5: DQ flag
ax = axes[4]
ax.plot(t_phy, dq_flag, color=ORANGE, lw=1.6, linestyle=(0, (0.7, 0.9)))
style(ax, 'MWR Phy Iter DQ Flag', (-0.51, 11.52), [0, 2, 4, 6, 8, 10], right_color=DARK)

fig.savefig('out.png', dpi=382.5, facecolor='white')
